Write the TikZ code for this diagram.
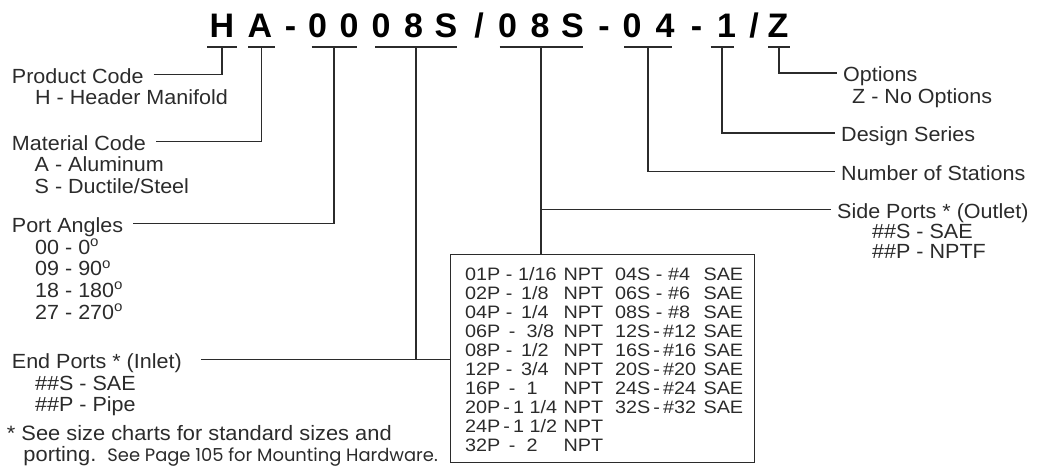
\documentclass[tikz,border=0pt]{standalone}
\usepackage{fontspec}
\setmainfont{Liberation Sans}
\newfontfamily\bodyfont[FakeStretch=1.05]{Liberation Sans}
\newfontfamily\codefont[FakeStretch=1.1]{Liberation Sans}
\newfontfamily\notefont{Poppins}
\usepackage{xcolor}
\usepackage{tikz}
\usetikzlibrary{positioning,calc}

\definecolor{ink}{HTML}{2B2B2B}
\newcommand{\optlist}[1]{\begin{tabular}[t]{@{}l@{}}#1\end{tabular}}
\newcommand{\pipesize}[1]{\makebox[138pt][l]{#1\hfill NPT}}
\newcommand{\saesize}[1]{\makebox[128pt][l]{#1\hfill SAE}}
\newcommand{\dg}{\smash{\textsuperscript{o}}}

\begin{document}
\begin{tikzpicture}[x=1pt,y=-1pt,
  txt/.style={inner sep=0pt,anchor=base west,text=ink,font={\bodyfont\fontsize{20.5}{21.7}\selectfont}},
  head/.style={txt,text height=17.4pt,text depth=0pt},
  chart/.style={txt,font={\codefont\fontsize{18}{19}\selectfont}},
  wire/.style={draw=ink,line width=1.2pt},
  lead/.style={wire,shorten <=10pt},
  tail/.style={wire,shorten >=6pt}]
\useasboundingbox (0,0) rectangle (1044,468);

% part number
\foreach \x/\c [count=\i] in {222/H,260/A,290.5/-,317.5/0,349/0,381/0,413.5/8,446/S,479/{/},
  507.5/0,540/8,572.5/S,604/-,632/0,665/4,696.5/-,726.5/1,754/{/},778/Z}
  \node[inner sep=0pt,anchor=base,text=black,font={\bfseries\fontsize{34}{34}\selectfont}] (ch\i) at (\x,37.5) {\c};

% ticks under each field
\foreach \n/\x/\w in {tH/222/15,tA/261.5/13.5,tPA/334/22.5,tEP/416/41,tSP/541/41.5,tNS/648/24,tDS/722/11.5,tOP/779/11}{
  \coordinate (\n) at (\x,47);
  \draw[wire] ([xshift=-\w pt]\n) -- ([xshift=\w pt]\n);
}

% left labels
\node[head] (prodcode) at (11.7,83.3) {Product Code};
\node[txt] (prodlist) at (35,105) {\optlist{H - Header Manifold}};
\node[head] (matcode) at (11.7,150) {Material Code};
\node[txt] (matlist) at (34.5,171.7) {\optlist{A - Aluminum\\S - Ductile/Steel}};
\node[head] (anglehead) at (11.7,232) {Port Angles};
\node[txt] (anglelist) at (35,254) {\optlist{00 - 0\dg\\09 - 90\dg\\18 - 180\dg\\27 - 270\dg}};
\node[head] (endhead) at (11.7,368) {End Ports * (Inlet)};
\node[txt] (endlist) at (35,390) {\optlist{\#\#S - SAE\\\#\#P - Pipe}};
\node[txt,font={\bodyfont\fontsize{20.8}{20.5}\selectfont}] (note) at (6.7,440)
  {\optlist{* See size charts for standard sizes and\\\hspace{16.6pt}porting.\hspace{3pt} {\notefont\fontsize{17.9}{20}\selectfont See Page 105 for Mounting Hardware.}}};

% right labels
\node[head] (opthead) at (843,81.7) {Options};
\node[txt] (optlist) at (852,103.3) {\optlist{Z - No Options}};
\node[head] (designhead) at (841,141.7) {Design Series};
\node[head] (stationhead) at (841,180) {Number of Stations};
\node[head] (sidehead) at (837,218.3) {Side Ports * (Outlet)};
\node[txt,font={\bodyfont\fontsize{20.5}{20}\selectfont}] (sidelist) at (872,238.5) {\optlist{\#\#S - SAE\\\#\#P - NPTF}};

% size chart
\node[draw=ink,line width=1.3pt,minimum width=304pt,minimum height=207.5pt,inner sep=0pt,anchor=north west] (codes) at (450,254) {};
\node[chart] (pipesizes) at (465,280) {\optlist{%
  \pipesize{01P - 1/16}\\\pipesize{02P - \,1/8}\\\pipesize{04P - \,1/4}\\\pipesize{06P \,- \ 3/8}\\
  \pipesize{08P - \,1/2}\\\pipesize{12P - \,3/4}\\\pipesize{16P \,- \ 1}\\\pipesize{20P\,-\,1 1/4}\\
  \pipesize{24P\,-\,1 1/2}\\\pipesize{32P \,- \ 2}}};
\node[chart] (saesizes) at (615,280) {\optlist{%
  \saesize{04S - \#4}\\\saesize{06S - \#6}\\\saesize{08S - \#8}\\\saesize{12S\hspace{3pt}-\hspace{3pt}\#12}\\
  \saesize{16S\hspace{3pt}-\hspace{3pt}\#16}\\\saesize{20S\hspace{3pt}-\hspace{3pt}\#20}\\
  \saesize{24S\hspace{3pt}-\hspace{3pt}\#24}\\\saesize{32S\hspace{3pt}-\hspace{3pt}\#32}}};

% connectors
\draw[lead] (prodcode.east) -| (tH);
\draw[lead] (matcode.east) -| (tA);
\draw[lead] (anglehead.east) -| (tPA);
\draw[lead,shorten <=19pt] (endhead.east) -- (endhead.east -| codes.west);
\draw[wire] (tEP) -- (tEP |- endhead.east);
\draw[wire] (tSP) -- (tSP |- codes.north);
\draw[tail] (tSP |- sidehead.west) -- (sidehead.west);
\draw[tail] (tNS) |- (stationhead.west);
\draw[tail] (tDS) |- (designhead.west);
\draw[tail] (tOP) |- (opthead.west);
\end{tikzpicture}
\end{document}
